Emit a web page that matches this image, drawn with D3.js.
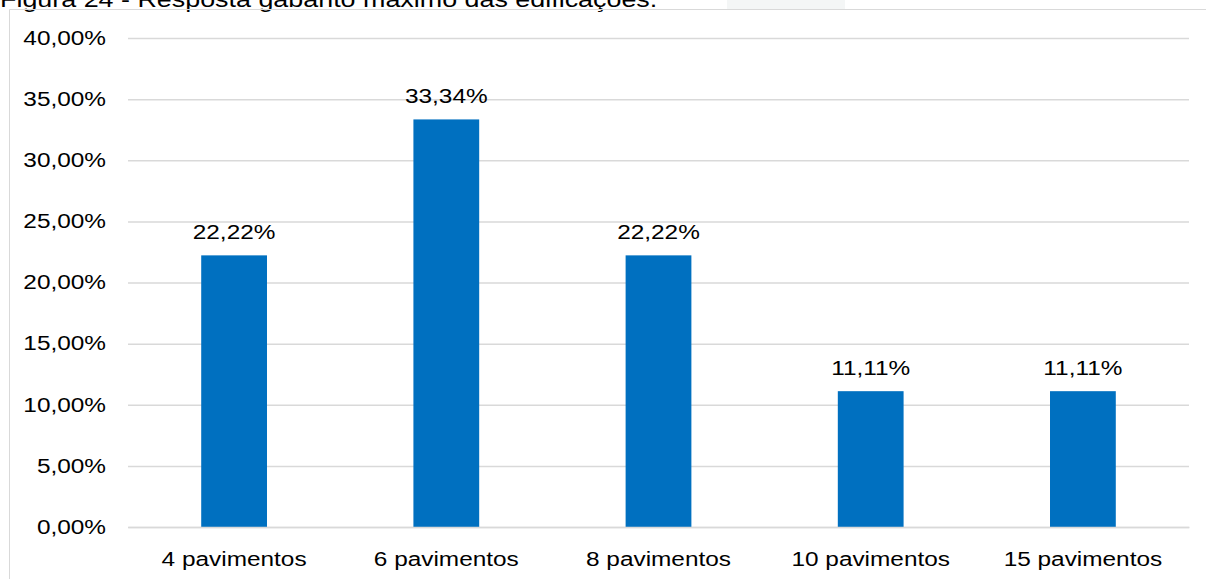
<!DOCTYPE html>
<html><head><meta charset="utf-8">
<script src="https://cdn.jsdelivr.net/npm/d3@7"></script>
<style>body{margin:0;background:#fff;} svg{display:block;font-family:"Liberation Sans",Arial,sans-serif;}</style>
</head><body>
<svg id="c" width="1206" height="579"></svg>
<script>
const categories = ["4 pavimentos","6 pavimentos","8 pavimentos","10 pavimentos","15 pavimentos"];
const values = [22.22, 33.34, 22.22, 11.11, 11.11];
const valueLabels = ["22,22%","33,34%","22,22%","11,11%","11,11%"];
const yTicks = [0,5,10,15,20,25,30,35,40];
const title = "Figura 24 - Resposta gabarito máximo das edificações.";

const STRETCH = 1.25;
const svg = d3.select("#c");
const fmt = v => d3.format(".2f")(v).replace(".", ",") + "%";

// faint background shape near top
svg.append("rect").attr("x",727).attr("y",0).attr("width",118).attr("height",9).attr("fill","#f4f6f6");

svg.append("text").attr("class","st").attr("x",0).attr("y",6.5).attr("font-size",21.5).attr("fill","#000").text(title);

// chart frame
svg.append("line").attr("x1",9.5).attr("x2",1206).attr("y1",9.5).attr("y2",9.5).attr("stroke","#d9d9d9");
svg.append("line").attr("x1",9.5).attr("x2",9.5).attr("y1",9.5).attr("y2",579).attr("stroke","#d9d9d9");

const x = d3.scaleBand().domain(categories).range([128,1189]).paddingInner(0.69).paddingOuter(0.345);
const y = d3.scaleLinear().domain([0,40]).range([527,38]);

const yAxis = d3.axisLeft(y).tickValues(yTicks).tickSize(-(1189-128)).tickFormat(fmt).tickPadding(22);
const gy = svg.append("g").attr("transform","translate(128,0)").call(yAxis);
gy.select(".domain").remove();
gy.selectAll(".tick line").attr("stroke","#d9d9d9").attr("stroke-width",1.5);
gy.selectAll(".tick text").attr("class","st").attr("font-size",19.5).attr("fill","#000").attr("font-family","Liberation Sans, Arial, sans-serif");

svg.selectAll(".bar").data(values).join("rect")
  .attr("x",(d,i)=>x(categories[i])).attr("width",x.bandwidth())
  .attr("y",d=>y(d)).attr("height",d=>y(0)-y(d)).attr("fill","#0070C0");

svg.selectAll(".vl").data(values).join("text").attr("class","st")
  .attr("x",(d,i)=>x(categories[i])+x.bandwidth()/2).attr("y",d=>y(d)-16)
  .attr("text-anchor","middle").attr("font-size",19.5).attr("fill","#000")
  .text((d,i)=>valueLabels[i]);

const gx = svg.append("g").attr("transform","translate(0,527)").call(d3.axisBottom(x).tickSize(0).tickPadding(25));
gx.select(".domain").attr("stroke","#d9d9d9").attr("stroke-width",1.5);
gx.selectAll(".tick text").attr("class","st").attr("font-size",19.5).attr("fill","#000").attr("font-family","Liberation Sans, Arial, sans-serif");

// horizontal stretch of glyphs to match the reference's wider letterforms
svg.selectAll("text.st").each(function(){
  const w = this.getComputedTextLength();
  d3.select(this).attr("textLength", w*STRETCH).attr("lengthAdjust","spacingAndGlyphs");
});
</script>
</body></html>
